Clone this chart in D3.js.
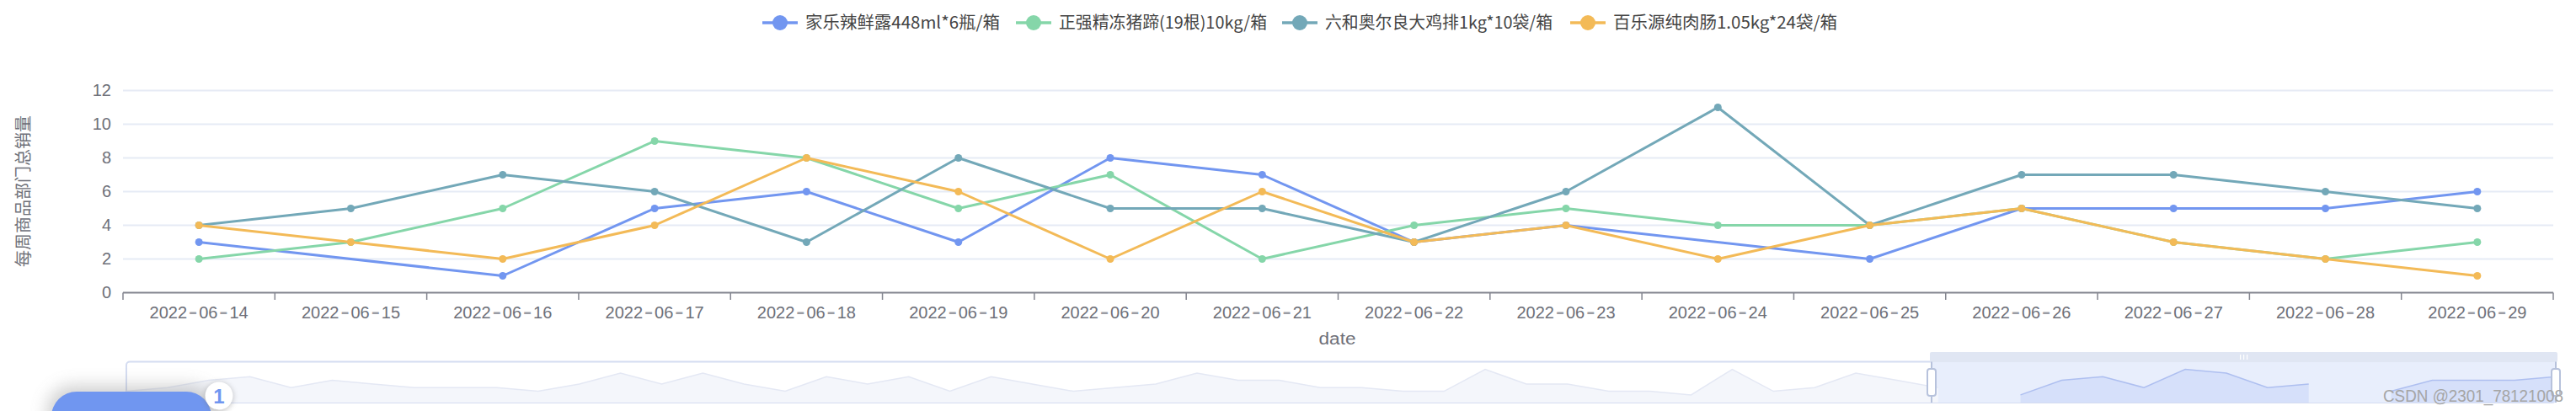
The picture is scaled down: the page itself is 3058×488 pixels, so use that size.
<!DOCTYPE html>
<html>
<head>
<meta charset="utf-8">
<script src="https://cdn.jsdelivr.net/npm/d3@7"></script>
<style>
html, body { margin: 0; padding: 0; background: #fff; overflow: hidden; }
text { font-family: "Noto Sans CJK SC", "Liberation Sans", sans-serif; }
</style>
</head>
<body>
<svg id="chart" width="3058" height="488"></svg>
<script>
const dates = ["2022-06-14","2022-06-15","2022-06-16","2022-06-17","2022-06-18","2022-06-19","2022-06-20","2022-06-21","2022-06-22","2022-06-23","2022-06-24","2022-06-25","2022-06-26","2022-06-27","2022-06-28","2022-06-29"];
const names = ["家乐辣鲜露448ml*6瓶/箱","正强精冻猪蹄(19根)10kg/箱","六和奥尔良大鸡排1kg*10袋/箱","百乐源纯肉肠1.05kg*24袋/箱"];
const colors = ["#7296f0","#85d6a9","#73a8b8","#f3ba57"];
const jiale = [3,null,1,5,6,3,8,7,3,4,null,2,5,5,5,6];
const zhengqiang = [2,3,5,9,8,5,7,2,4,5,4,4,5,3,2,3];
const liuhe = [4,5,7,6,3,8,5,5,3,6,11,4,7,7,6,5];
const baile = [4,3,2,4,8,6,2,6,3,4,2,4,5,3,2,1];
const allSeries = [jiale, zhengqiang, liuhe, baile];
const yTicks = [0,2,4,6,8,10,12];
// slider thumbnail, whole period of the first series
const overview = [2,3,5,6,3,5,4,3,3,3,2,4,7,4,7,4,2,6,4,6,2,6,4,2,3,4,7,5,5,3,3,2,2,8,4,4,2,2,1,8,2,3,7,5,3,null,1,5,6,3,8,7,3,4,null,2,5,5,5,6];

const svg = d3.select("#chart");
const x = d3.scaleBand().domain(dates).range([146, 3031]);
const y = d3.scaleLinear().domain([0, 12]).range([347.5, 107.5]);
const labelColor = "#6e7079";

// grid
svg.append("g").selectAll("line").data(yTicks.filter(d => d > 0)).enter().append("line")
    .attr("x1", 146).attr("x2", 3031)
    .attr("y1", d => y(d)).attr("y2", d => y(d))
    .attr("stroke", "#e6ebf5").attr("stroke-width", 2);

const yAxis = d3.axisLeft(y).tickValues(yTicks).tickSize(0).tickPadding(14);
const yg = svg.append("g").attr("transform", "translate(146,0)").call(yAxis);
yg.select(".domain").remove();
yg.selectAll("text").attr("font-size", 20).attr("fill", labelColor).style("font-family", "'Liberation Sans'");

const xAxis = d3.axisBottom(x).tickSize(0).tickPadding(16);
const xg = svg.append("g").attr("transform", "translate(0,347.5)").call(xAxis);
xg.select(".domain").remove();
xg.selectAll("text").attr("font-size", 20).attr("fill", labelColor).style("font-family", "'Liberation Sans'");
// the dashes in the date labels are long and thin, so set them in a bigger size
xg.selectAll("text").each(function(d) {
    const t = d3.select(this).text("");
    d.split("-").forEach((part, i) => {
        if (i > 0) {
            t.append("tspan").attr("font-size", 32).attr("dx", 1.7).attr("dy", 2.3).attr("fill", "#9a9ca3").text("-");
            t.append("tspan").attr("dx", 1.7).attr("dy", -2.3).text(part);
        } else {
            t.append("tspan").text(part);
        }
    });
});

svg.append("line").attr("x1", 146).attr("x2", 3031).attr("y1", 347.5).attr("y2", 347.5)
    .attr("stroke", "#83858f").attr("stroke-width", 2);
const boundaries = dates.map(d => x(d)).concat([x.range()[1]]);
svg.append("g").selectAll("line").data(boundaries).enter().append("line")
    .attr("x1", d => d).attr("x2", d => d).attr("y1", 347.5).attr("y2", 356)
    .attr("stroke", "#83858f").attr("stroke-width", 1.5);

svg.append("text").attr("x", 1587.5).attr("y", 409).attr("text-anchor", "middle")
    .attr("font-size", 20).attr("fill", labelColor).style("font-family", "'Liberation Sans'")
    .attr("textLength", 44).attr("lengthAdjust", "spacingAndGlyphs").text("date");
svg.append("text").attr("transform", "translate(35,227) rotate(-90)").attr("text-anchor", "middle")
    .attr("font-size", 20).attr("fill", labelColor).text("每周商品部门总销量");

// lines
const line = d3.line().x(d => x(d.date) + x.bandwidth() / 2).y(d => y(d.value));
allSeries.forEach((s, k) => {
    const pts = s.map((v, i) => ({date: dates[i], value: v})).filter(d => d.value !== null);
    svg.append("path").attr("d", line(pts)).attr("fill", "none")
        .attr("stroke", colors[k]).attr("stroke-width", 3).attr("stroke-linejoin", "round");
    svg.append("g").selectAll("circle").data(pts).enter().append("circle")
        .attr("cx", d => x(d.date) + x.bandwidth() / 2).attr("cy", d => y(d.value)).attr("r", 4.5)
        .attr("fill", colors[k]);
});

// legend
const legendX = [905, 1206, 1522, 1864];
const legendTextLen = [231, 247, 270, 266];
names.forEach((n, k) => {
    const g = svg.append("g").attr("transform", `translate(${legendX[k]},27)`);
    g.append("line").attr("x1", 0).attr("x2", 42).attr("stroke", colors[k]).attr("stroke-width", 3.5);
    g.append("circle").attr("cx", 21).attr("r", 9).attr("fill", colors[k]);
    g.append("text").attr("x", 51).attr("y", 7).attr("font-size", 20).attr("fill", "#444")
        .attr("textLength", legendTextLen[k]).attr("lengthAdjust", "spacingAndGlyphs").text(n);
});

// slider
const sx = d3.scalePoint().domain(d3.range(overview.length)).range([150, 3034]);
const sy = d3.scaleLinear().domain([-1.1, 10.1]).range([478, 429.5]);
const sliderLeft = 2293, sliderRight = 3034;
svg.append("rect").attr("x", 150).attr("y", 429.5).attr("width", 2884).attr("height", 48.5).attr("rx", 4)
    .attr("fill", "#fff").attr("stroke", "#d4dcf1").attr("stroke-width", 2);
svg.append("rect").attr("x", sliderLeft).attr("y", 429.5).attr("width", sliderRight - sliderLeft).attr("height", 48.5)
    .attr("fill", "#e8eefc");
svg.append("rect").attr("x", sliderLeft - 2).attr("y", 418).attr("width", sliderRight - sliderLeft + 4).attr("height", 12).attr("rx", 2)
    .attr("fill", "#e0e6f3");
svg.append("g").selectAll("rect").data([-4, 0, 4]).enter().append("rect")
    .attr("x", d => (sliderLeft + sliderRight) / 2 + d - 0.5).attr("y", 421).attr("width", 1.2).attr("height", 6).attr("fill", "#fff");

const area = d3.area().defined(d => d.v !== null).x(d => sx(d.i)).y0(478).y1(d => sy(d.v));
const sline = d3.line().defined(d => d.v !== null).x(d => sx(d.i)).y(d => sy(d.v));
const ovData = overview.map((v, i) => ({i: i, v: v}));
const before = ovData.slice(0, 45);
const inside = ovData.slice(44);
svg.append("path").attr("d", area(before)).attr("fill", "#f4f6fb");
svg.append("path").attr("d", sline(before)).attr("fill", "none").attr("stroke", "#e4e8f4").attr("stroke-width", 1.5);
svg.append("path").attr("d", area(inside)).attr("fill", "#d6e0fa");
svg.append("path").attr("d", sline(inside)).attr("fill", "none").attr("stroke", "#aebff0").attr("stroke-width", 1.5);

[sliderLeft, sliderRight].forEach(hx => {
    svg.append("line").attr("x1", hx).attr("x2", hx).attr("y1", 429.5).attr("y2", 478).attr("stroke", "#b7c2dc").attr("stroke-width", 2);
    svg.append("rect").attr("x", hx - 5).attr("y", 438).attr("width", 10).attr("height", 32).attr("rx", 3)
        .attr("fill", "#fff").attr("stroke", "#b7c2dc").attr("stroke-width", 2);
});

// page overlays
const defs = svg.append("defs");
const blur = defs.append("filter").attr("id", "soft").attr("x", "-30%").attr("y", "-60%").attr("width", "160%").attr("height", "220%");
blur.append("feGaussianBlur").attr("stdDeviation", 10);
const blur2 = defs.append("filter").attr("id", "soft2").attr("x", "-50%").attr("y", "-50%").attr("width", "200%").attr("height", "200%");
blur2.append("feGaussianBlur").attr("stdDeviation", 3);
svg.append("rect").attr("x", 56).attr("y", 458).attr("width", 200).attr("height", 70).attr("rx", 30)
    .attr("fill", "#888").attr("opacity", 0.4).attr("filter", "url(#soft)");
svg.append("rect").attr("x", 61).attr("y", 465).attr("width", 190).attr("height", 70).attr("rx", 30).attr("fill", "#7096f0");
svg.append("circle").attr("cx", 260).attr("cy", 471).attr("r", 17).attr("fill", "#777").attr("opacity", 0.4).attr("filter", "url(#soft2)");
svg.append("circle").attr("cx", 260).attr("cy", 470).attr("r", 16.5).attr("fill", "#fff");
svg.append("text").attr("x", 260).attr("y", 479).attr("text-anchor", "middle")
    .attr("font-size", 24).attr("font-weight", "bold").attr("fill", "#7096f0").style("font-family", "'Liberation Sans'").text("1");
svg.append("text").attr("x", 2829).attr("y", 476.5).attr("font-size", 20).attr("fill", "#a5a5a5")
    .attr("textLength", 214).attr("lengthAdjust", "spacingAndGlyphs").style("font-family", "'Liberation Sans'").text("CSDN @2301_78121008");
</script>
</body>
</html>
